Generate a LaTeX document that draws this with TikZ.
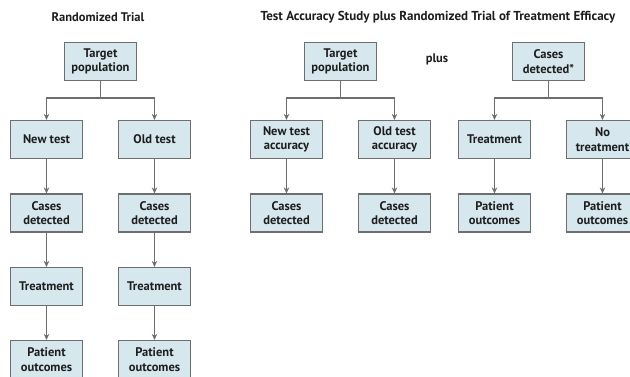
\documentclass[tikz,border=0pt]{standalone}
\usepackage{fontspec}
\setmainfont{PT Sans}
\usetikzlibrary{trees,arrows.meta}

\definecolor{boxfill}{RGB}{214,231,238}
\definecolor{boxline}{RGB}{110,110,110}
\definecolor{ink}{RGB}{30,30,30}

\tikzset{
  box/.style={rectangle,draw=boxline,fill=boxfill,line width=1.2pt,
    minimum width=72pt,minimum height=38pt,inner sep=1pt,
    align=center,font=\bfseries\fontsize{12.5}{14.5}\selectfont,text=ink},
  heading/.style={font=\bfseries\fontsize{12.5}{14}\selectfont,text=ink},
}

\begin{document}
\begin{tikzpicture}[x=1pt,y=1pt,
  every child node/.style={box},
  level 1/.style={level distance=78pt},
  level 2/.style={level distance=73.5pt},
  level 3/.style={level distance=73.5pt},
  level 4/.style={level distance=73pt},
  sibling distance=108pt,
  edge from parent/.style={draw=boxline,line width=1.4pt,
    -{Stealth[length=6pt,width=5.5pt,fill=ink]}},
  edge from parent path={(\tikzparentnode.south) -- +(0pt,-17pt)
    -| (\tikzchildnode.north)}]
\useasboundingbox (0,0) rectangle (630,-377);

\node[heading] (t1) at (98,-17) {Randomized Trial};
\node[heading,font=\bfseries\fontsize{13}{14}\selectfont] (t2) at (438,-17) {Test Accuracy Study plus Randomized Trial of Treatment Efficacy};
\node[heading] (plus) at (437,-59) {plus};

% randomized trial
\node[box] (tp1) at (100.5,-61.5) {Target\\population}
  child {node (nt) {New test}
    child {node (cd1) {Cases\\detected}
      child {node (tr1) {Treatment}
        child {node (po1) {Patient\\outcomes}}}}}
  child {node (ot) {Old test}
    child {node (cd2) {Cases\\detected}
      child {node (tr2) {Treatment}
        child {node (po2) {Patient\\outcomes}}}}}
;

% test accuracy study
\node[box] (tp2) at (340.5,-61.5) {Target\\population}
  child {node (nta) {New test\\accuracy}
    child {node (cd3) {Cases\\detected}}}
  child {node (ota) {Old test\\accuracy}
    child {node (cd4) {Cases\\detected}}}
;

% treatment efficacy
\node[box] (cd5) at (548.5,-61.5) {Cases\\detected*}
  child {node (tr3) {Treatment}
    child {node (po3) {Patient\\outcomes}}}
  child {node (nt3) {No\\treatment}
    child {node (po4) {Patient\\outcomes}}}
;
\end{tikzpicture}
\end{document}
